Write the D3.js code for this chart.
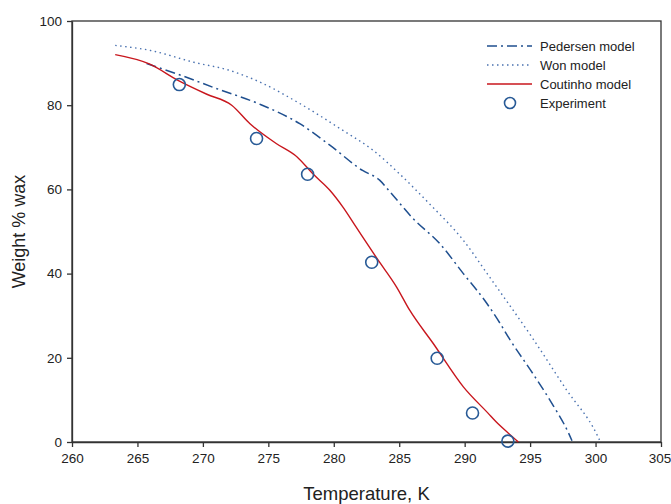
<!DOCTYPE html>
<html><head><meta charset="utf-8">
<script src="https://cdn.jsdelivr.net/npm/d3@7/dist/d3.min.js"></script>
<style>body{margin:0;background:#fff}svg{display:block}text{font-family:"Liberation Sans",Arial,sans-serif;fill:#222}</style>
</head><body>
<script>
const xTicks = [260,265,270,275,280,285,290,295,300,305];
const yTicks = [0,20,40,60,80,100];
const pedersen = [[265.7,89.9],[268.5,86.9],[271,84],[274.3,80.3],[277.4,75.6],[279.7,70.5],[282.2,64.5],[283.5,62.2],[284.3,59.4],[286.05,53.1],[288.1,47.1],[289.9,40.0],[291.7,32.9],[292.7,28.2],[293.4,24.6],[295.2,16.3],[296.5,10.0],[298.0,1.7],[298.2,0.3]];
const won = [[263.3,94.2],[266,93.0],[269.3,90.2],[272,88.3],[274.35,85.5],[277.4,80.4],[280.7,74.0],[283.0,69.3],[285.0,63.75],[287.3,56.6],[289.9,47.9],[291.9,39.2],[292.7,35.7],[295.2,24.6],[297.8,12.3],[300.05,2.1],[300.3,0.5]];
const coutinho = [[263.3,92.0],[265.9,89.8],[268.1,85.9],[270.3,82.6],[272.2,80.0],[273.6,75.6],[275.6,70.9],[277.2,67.7],[278.4,63.7],[279.7,59.8],[280.7,55.8],[281.7,51.1],[283.3,43.6],[284.8,36.8],[285.8,31.3],[287.6,23.4],[289.9,13.1],[291.8,6.8],[292.4,4.8],[293.3,2.2],[294.1,0]];
const experiment = [[268.2,84.9],[274.1,72.1],[278.0,63.6],[282.9,42.7],[287.9,19.9],[290.6,6.9],[293.3,0.2]];
const legendNames = ["Pedersen model","Won model","Coutinho model","Experiment"];

const W=671,H=504, L=72,R=661,T=21,B=442;
const svg=d3.select("body").append("svg").attr("width",W).attr("height",H);
const x=d3.scaleLinear().domain([260,305]).range([L,R]);
const y=d3.scaleLinear().domain([0,100]).range([B,T]);
const axisCol="#333";

svg.append("rect").attr("x",L).attr("y",T).attr("width",R-L).attr("height",B-T)
  .attr("fill","none").attr("stroke",axisCol).attr("stroke-width",1.3);

const xa=svg.append("g").attr("transform",`translate(0,${B})`)
  .call(d3.axisBottom(x).tickValues(xTicks).tickSize(5).tickSizeOuter(0).tickPadding(6));
const ya=svg.append("g").attr("transform",`translate(${L},0)`)
  .call(d3.axisLeft(y).tickValues(yTicks).tickSize(5).tickSizeOuter(0).tickPadding(5));
[xa,ya].forEach(a=>{a.select(".domain").attr("stroke",axisCol).attr("stroke-width",1.3);
  a.selectAll(".tick line").attr("stroke",axisCol).attr("stroke-width",1.3);
  a.selectAll(".tick text").attr("font-size",13.5).attr("fill","#222").style("font-family","Liberation Sans, Arial, sans-serif");});
xa.selectAll(".tick text").filter(d=>d===305).attr("dx",-1.5);

svg.append("text").attr("x",(L+R)/2).attr("y",500).attr("text-anchor","middle").attr("font-size",18.5).text("Temperature, K");
svg.append("text").attr("transform",`translate(25,${(T+B)/2}) rotate(-90)`).attr("text-anchor","middle").attr("font-size",18).text("Weight % wax");

const line=d3.line().x(d=>x(d[0])).y(d=>y(d[1])).curve(d3.curveMonotoneX);
const styles=[
  {data:pedersen,color:"#1f4f8f",w:1.5,dash:"10,4,2,4"},
  {data:won,color:"#4a72b0",w:1.4,dash:"1.5,3.5"},
  {data:coutinho,color:"#c8161d",w:1.4,dash:null}
];
styles.forEach(s=>{
  svg.append("path").datum(s.data).attr("d",line).attr("fill","none")
    .attr("stroke",s.color).attr("stroke-width",s.w).attr("stroke-dasharray",s.dash);
});
svg.append("g").selectAll("circle").data(experiment).join("circle")
  .attr("cx",d=>x(d[0])).attr("cy",d=>y(d[1])).attr("r",6)
  .attr("fill","none").attr("stroke","#285a96").attr("stroke-width",1.6);

const lg=svg.append("g");
legendNames.forEach((n,i)=>{
  const yy=46+i*19;
  if(i<3){
    const s=styles[i];
    lg.append("line").attr("x1",487).attr("x2",532).attr("y1",yy).attr("y2",yy)
      .attr("stroke",s.color).attr("stroke-width",s.w).attr("stroke-dasharray",s.dash);
  } else {
    lg.append("circle").attr("cx",510).attr("cy",yy).attr("r",5.5).attr("fill","none")
      .attr("stroke","#285a96").attr("stroke-width",1.6);
  }
  lg.append("text").attr("x",540).attr("y",yy+4.5).attr("font-size",13).text(n);
});
</script>
</body></html>
